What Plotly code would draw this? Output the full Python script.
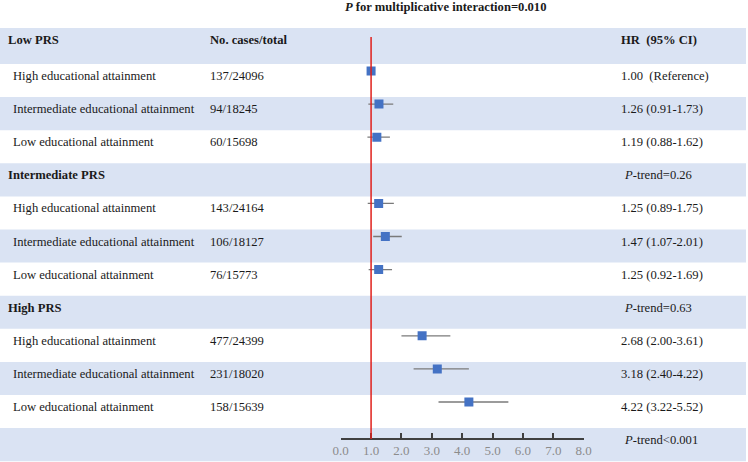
import plotly.graph_objects as go

# ---- data ----
group_labels = ["Low PRS", "Intermediate PRS", "High PRS"]
group_ptrend = ["", "<i>P</i>-trend=0.26", "<i>P</i>-trend=0.63"]
final_ptrend = "<i>P</i>-trend<0.001"
edu_labels = ["High educational attainment", "Intermediate educational attainment", "Low educational attainment"]
cases = [["137/24096", "94/18245", "60/15698"],
         ["143/24164", "106/18127", "76/15773"],
         ["477/24399", "231/18020", "158/15639"]]
hr = [[1.00, 1.26, 1.19], [1.25, 1.47, 1.25], [2.68, 3.18, 4.22]]
lo = [[1.00, 0.91, 0.88], [0.89, 1.07, 0.92], [2.00, 2.40, 3.22]]
hi = [[1.00, 1.73, 1.62], [1.75, 2.01, 1.69], [3.61, 4.22, 5.52]]
hr_text = [["1.00\u00a0\u00a0(Reference)", "1.26 (0.91-1.73)", "1.19 (0.88-1.62)"],
           ["1.25 (0.89-1.75)", "1.47 (1.07-2.01)", "1.25 (0.92-1.69)"],
           ["2.68 (2.00-3.61)", "3.18 (2.40-4.22)", "4.22 (3.22-5.52)"]]
x_ticks = [0, 1, 2, 3, 4, 5, 6, 7, 8]
x_ticklabels = ["0.0", "1.0", "2.0", "3.0", "4.0", "5.0", "6.0", "7.0", "8.0"]
title_text = "<b><i>P</i> for multiplicative interaction=0.010</b>"
col_header_cases = "No. cases/total"
col_header_hr = "HR\u00a0\u00a0(95% CI)"
ref_value = 1.0

# ---- layout geometry ----
W, H = 748, 462
FONT = "Liberation Serif, Times New Roman, serif"
FS = 12.6
BAND = "#DAE3F3"
TXT = "#1a1a1a"
ROWH = 33.1
Y0PX = 64
y_top = -Y0PX / ROWH
y_bot = (H - Y0PX) / ROWH
head_top = -36 / ROWH

shapes = []
annotations = []

def row_top(r):
    return head_top if r == 0 else r - 1

def row_bot(r):
    return r if r >= 1 else 0

for r in range(0, 13, 2):
    shapes.append(dict(type="rect", xref="paper", yref="y", x0=0, x1=746 / W,
                       y0=row_top(r), y1=row_bot(r), fillcolor=BAND, line=dict(width=0), layer="below"))

def add_text(px, r, text, size=FS, xanchor="left"):
    yy = row_top(r) + 12 / ROWH
    annotations.append(dict(x=px / W, y=yy, xref="paper", yref="y", text=text, showarrow=False,
                            xanchor=xanchor, yanchor="middle", borderpad=0, borderwidth=0,
                            font=dict(family=FONT, size=size, color=TXT)))

xs, ys, cis_x, cis_y = [], [], [], []
r = 0
for g in range(3):
    add_text(8, r, "<b>" + group_labels[g] + "</b>")
    if g == 0:
        add_text(210, r, "<b>" + col_header_cases + "</b>")
        add_text(621, r, "<b>" + col_header_hr + "</b>")
    else:
        add_text(624, r, group_ptrend[g])
    r += 1
    for k in range(3):
        add_text(13, r, edu_labels[k])
        add_text(210, r, cases[g][k])
        add_text(621, r, hr_text[g][k])
        ym = row_top(r) + 7 / ROWH
        xs.append(hr[g][k]); ys.append(ym)
        if hi[g][k] > lo[g][k]:
            cis_x += [lo[g][k], hi[g][k], None]
            cis_y += [ym, ym, None]
        r += 1
add_text(624, r, final_ptrend)

annotations.append(dict(x=445 / W, y=y_top + 7 / ROWH, xref="paper", yref="y", text=title_text,
                        showarrow=False, xanchor="center", yanchor="middle",
                        borderpad=0, borderwidth=0,
                        font=dict(family=FONT, size=FS, color=TXT)))

axis_px = 439
axis_pos = (H - axis_px) / H

shapes.append(dict(type="line", xref="x", yref="y", x0=ref_value, x1=ref_value,
                   y0=y_top + 37 / ROWH, y1=(axis_px - Y0PX) / ROWH,
                   line=dict(color="#E0201B", width=1.5), layer="above"))

fig = go.Figure()
fig.add_trace(go.Scatter(x=cis_x, y=cis_y, mode="lines", line=dict(color="#7a7a7a", width=1.3),
                         hoverinfo="skip", showlegend=False))
fig.add_trace(go.Scatter(x=xs, y=ys, mode="markers",
                         marker=dict(symbol="square", size=9, color="#4472C4",
                                     line=dict(width=0)), showlegend=False))

dom0 = 340.7 / W
dom1 = 583.7 / W
fig.update_layout(
    width=W, height=H, margin=dict(l=0, r=0, t=0, b=0, pad=0), autosize=False,
    paper_bgcolor="white", plot_bgcolor="rgba(0,0,0,0)",
    shapes=shapes, annotations=annotations,
    xaxis=dict(domain=[dom0, dom1], range=[0, 8], anchor="free", position=axis_pos,
               showline=True, linecolor="#404040", linewidth=1.5,
               ticks="inside", ticklen=5, tickwidth=1.5, tickcolor="#404040",
               tickvals=x_ticks, ticktext=x_ticklabels, showgrid=False, zeroline=False,
               automargin=False,
               tickfont=dict(family=FONT, size=13, color="#8C8C8C")),
    yaxis=dict(domain=[0, 1], range=[y_bot, y_top], visible=False, showgrid=False,
               zeroline=False, automargin=False),
)
fig.write_html("out.html", config={"displayModeBar": False},
               post_script="document.body.style.margin='0';document.body.style.padding='0';")
